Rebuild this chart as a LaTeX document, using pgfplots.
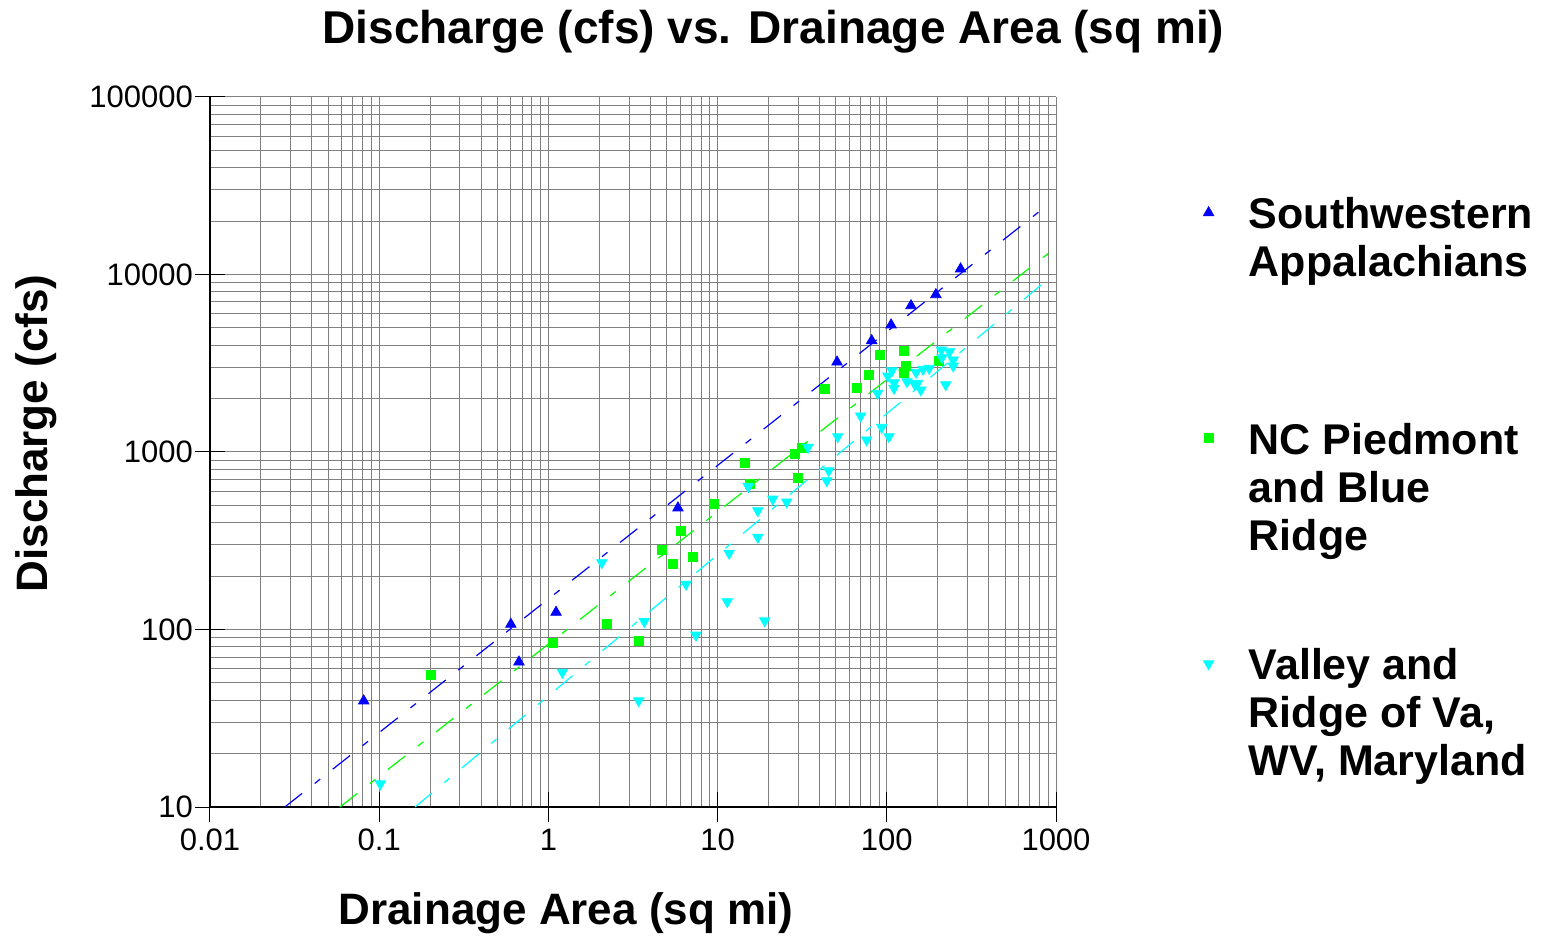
\documentclass[border=0pt]{standalone}
\usepackage{pgfplots}
\pgfplotsset{compat=1.18}
\usepackage{fontspec}
\setmainfont{Liberation Sans}
\definecolor{sblue}{RGB}{0,0,255}
\definecolor{sgreen}{RGB}{0,255,0}
\definecolor{scyan}{RGB}{0,255,255}
\begin{document}
\begin{tikzpicture}
\path[use as bounding box] (-105pt,-66pt) rectangle (666.5pt,403.5pt);
\begin{loglogaxis}[
 at={(0pt,0pt)}, anchor=south west,
 scale only axis, width=423pt, height=355pt,
 xmin=0.01, xmax=1000, ymin=10, ymax=100000,
 axis lines=left, axis line style={-, line width=0.9pt, black},
 xtick={0.01,0.1,1,10,100,1000},
 xticklabels={0.01,0.1,1,10,100,1000},
 ytick={10,100,1000,10000,100000},
 yticklabels={10,100,1000,10000,100000},
 minor xtick={0.02,0.03,0.04,0.05,0.06,0.07,0.08,0.09,0.2,0.3,0.4,0.5,0.6,0.7,0.8,0.9,2,3,4,5,6,7,8,9,20,30,40,50,60,70,80,90,200,300,400,500,600,700,800,900},
 minor ytick={20,30,40,50,60,70,80,90,200,300,400,500,600,700,800,900,2000,3000,4000,5000,6000,7000,8000,9000,20000,30000,40000,50000,60000,70000,80000,90000},
 grid=both,
 major grid style={black!50, line width=0.5pt},
 minor grid style={black!50, line width=0.5pt},
 tick align=center, major tick length=15pt, minor tick length=0pt,
 tick style={black, line width=0.5pt},
 tick label style={font=\fontsize{15.5}{18}\selectfont},
 yticklabel style={xshift=2.5pt},
 legend style={at={(1.1738,0.8592)}, anchor=north west, draw=none, fill=none,
   inner sep=0pt, column sep=17.5pt, row sep=0pt,
   nodes={inner sep=0pt, text height=15.7pt, text depth=97.05pt, font=\fontsize{21.5}{24}\selectfont\bfseries},
   cells={anchor=base west}},
 legend image post style={yshift=8pt},
]
\addplot[only marks, mark=triangle*, mark size=3pt, color=sblue] coordinates {
(0.081,39.6) (0.60,107) (0.67,65.6) (1.11,125) (5.83,484) (50.8,3214) (81.4,4240) (106,5200) (139,6670) (195,7700) (273,10750)
};
\addlegendentry{\parbox[t]{170pt}{\raggedright Southwestern\\Appalachians}}
\addplot[only marks, mark=square*, mark size=2.25pt, color=sgreen] coordinates {
(0.202,55.4) (1.06,84) (2.22,107) (3.43,86) (4.69,280) (5.45,234) (6.08,359) (7.16,256) (9.52,509) (14.5,867) (15.5,660) (28.7,975) (29.9,714) (31.5,1054) (43.1,2264) (66.7,2294) (78.5,2715) (91.2,3520) (126,3710) (130,3050) (126,2790) (204,3258)
};
\addlegendentry{\parbox[t]{170pt}{\raggedright NC Piedmont\\and Blue\\Ridge}}
\addplot[only marks, mark=triangle*, mark size=3pt, mark options={rotate=180}, color=scyan] coordinates {
(0.1016,13.5) (1.21,57.4) (2.07,238) (3.42,39.7) (3.69,111) (6.51,180) (7.45,93) (11.4,143.5) (11.7,269) (17.3,331) (17.3,467) (19.0,112) (15.2,638) (21.2,543) (25.6,523) (34.2,1062) (45.4,785) (44.2,689) (51.3,1220) (70.1,1596) (76.0,1169) (93.3,1377) (103,1220) (88.3,2142) (101.5,2680) (107.3,2872) (110.3,2457) (110.3,2285) (131.6,2489) (146,2415) (149,2811) (152,2438) (159,2236) (164,2924) (178,2962) (210,3757) (235,3674) (212,3400) (247,3300) (247,3052) (223,2395)
};
\addlegendentry{\parbox[t]{170pt}{\raggedright Valley and\\Ridge of Va,\\WV, Maryland}}
\addplot[sblue, line width=0.6pt, dash pattern=on 11pt off 8pt on 3.5pt off 8pt, forget plot] coordinates {(0.0277,10) (861,24000)};
\addplot[sgreen, line width=0.6pt, dash pattern=on 11pt off 8pt on 3.5pt off 8pt, forget plot] coordinates {(0.0586,10) (973,13930)};
\addplot[scyan, line width=0.6pt, dash pattern=on 11pt off 8pt on 3.5pt off 8pt, forget plot] coordinates {(0.163,10) (885,9310)};
\end{loglogaxis}
\node[font=\fontsize{23}{27}\selectfont\bfseries] at (281.75pt,387.75pt) {Discharge (cfs) vs. Drainage Area (sq mi)};
\node[font=\fontsize{22}{26}\selectfont\bfseries] at (178pt,-53pt) {Drainage Area (sq mi)};
\node[rotate=90, font=\fontsize{22}{26}\selectfont\bfseries] at (-87pt,186.75pt) {Discharge (cfs)};
\end{tikzpicture}
\end{document}
